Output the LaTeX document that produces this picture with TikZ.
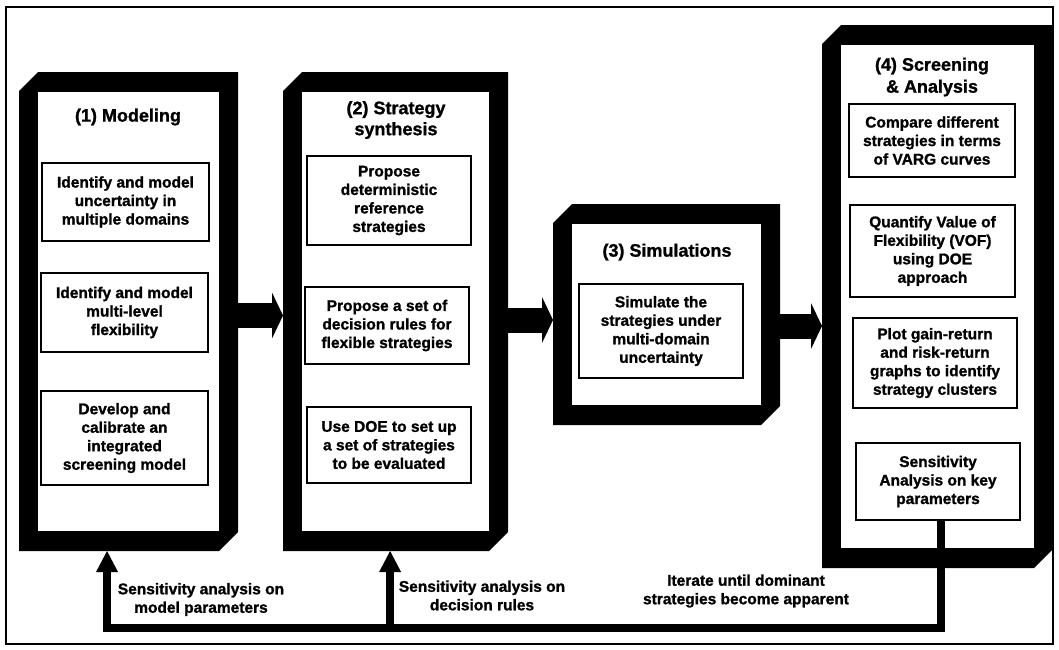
\documentclass[tikz,border=0pt]{standalone}
\usepackage{fontspec}
\setmainfont{Liberation Sans}[BoldFeatures={FakeBold=1.2}]
\usetikzlibrary{arrows.meta,calc}

% thick black panel with two chamfered corners (north west, south east)
\newcommand\panelframe[1]{%
  \fill ($(#1.north west)+(19,0)$) -- (#1.north east)
        -- ($(#1.south east)+(0,-19)$) -- ($(#1.south east)+(-19,0)$)
        -- (#1.south west) -- ($(#1.north west)+(0,19)$) -- cycle;
  \fill[white] ($(#1.north west)+(19,20)$) rectangle ($(#1.south east)+(-19,-20)$);}

\begin{document}
\begin{tikzpicture}[x=1pt,y=-1pt,
  every node/.style={font=\fontsize{15.5}{18.5}\selectfont\bfseries},
  panel/.style={inner sep=0pt,outer sep=0pt},
  stepbox/.style={draw,line width=1.1pt,fill=white,align=center,inner sep=2pt},
  title/.style={align=center,font=\fontsize{18}{21}\selectfont\bfseries},
  label/.style={align=center},
  blockarrow/.style={line width=25pt,-{Triangle[length=11pt,width=46pt,line width=0pt]}},
  feedback/.style={line width=8pt,-{Triangle[length=21pt,width=22pt,line width=0pt]}}]

\useasboundingbox (0,0) rectangle (1059,649);
\draw[line width=2pt] (6,7) rectangle (1053,644);

% the four stage panels
\node[panel,minimum width=219pt,minimum height=479pt] (m1) at (128.5,311.5) {};
\node[panel,minimum width=225pt,minimum height=479pt] (m2) at (395.5,311.5) {};
\node[panel,minimum width=227pt,minimum height=221pt] (m3) at (666.5,314.5) {};
\node[panel,minimum width=231pt,minimum height=543pt] (m4) at (937.5,296.5) {};
\panelframe{m1}
\panelframe{m2}
\panelframe{m3}
\panelframe{m4}

% titles
\node[title] (t1) at (128,117) {(1) Modeling};
\node[title] (t2) at (396,120) {(2) Strategy\\synthesis};
\node[title] (t3) at (667,252) {(3) Simulations};
\node[title,font=\fontsize{18}{22}\selectfont\bfseries] (t4) at (932,77) {(4) Screening\\\& Analysis};

% stage 1
\node[stepbox,minimum width=167pt,minimum height=78pt] (q11) at (125.5,202) {Identify and model\\uncertainty in\\multiple domains};
\node[stepbox,minimum width=167pt,minimum height=79pt] (q12) at (124.5,312.5) {Identify and model\\multi-level\\flexibility};
\node[stepbox,minimum width=167pt,minimum height=94pt] (q13) at (124.5,438) {Develop and\\calibrate an\\integrated\\screening model};

% stage 2
\node[stepbox,minimum width=164pt,minimum height=89pt] (q21) at (389,200.5) {Propose\\deterministic\\reference\\strategies};
\node[stepbox,minimum width=164pt,minimum height=77pt] (q22) at (387,325.5) {Propose a set of\\decision rules for\\flexible strategies};
\node[stepbox,minimum width=164pt,minimum height=76pt] (q23) at (389,445) {Use DOE to set up\\a set of strategies\\to be evaluated};

% stage 3
\node[stepbox,minimum width=164pt,minimum height=94pt] (q31) at (661,331) {Simulate the\\strategies under\\multi-domain\\uncertainty};

% stage 4
\node[stepbox,minimum width=166pt,minimum height=73pt] (q41) at (932,140.5) {Compare different\\strategies in terms\\of VARG curves};
\node[stepbox,minimum width=165pt,minimum height=92pt] (q42) at (932.5,251) {Quantify Value of\\Flexibility (VOF)\\using DOE\\approach};
\node[stepbox,minimum width=164pt,minimum height=90pt] (q43) at (935,363) {Plot gain-return\\and risk-return\\graphs to identify\\strategy clusters};
\node[stepbox,minimum width=164pt,minimum height=77pt] (q44) at (938,481.5) {Sensitivity\\Analysis on key\\parameters};

% forward flow between stages
\draw[blockarrow] ($(m1.east)+(0,4)$) -- ($(m2.west)+(0,4)$);
\draw[blockarrow] ($(m2.east)+(0,8.5)$) -- ($(m3.west)+(0,5.5)$);
\draw[blockarrow] ($(m3.east)+(0,11.5)$) -- ($(m4.west)+(0,29.5)$);

% iteration loop back to stages 1 and 2
\coordinate (bend) at ($(q44.south)+(3,107)$);
\coordinate (in1) at ($(m1.south west)!0.402!(m1.south east)$);
\coordinate (in2) at ($(m2.south west)!0.476!(m2.south east)$);
\draw[feedback] (q44.south -| bend) -- (bend) -| (in1);
\draw[feedback] (in2 |- bend) -- (in2);

% loop labels
\node[label] (l1) at (201,599.5) {Sensitivity analysis on\\model parameters};
\node[label] (l2) at (482,595.5) {Sensitivity analysis on\\decision rules};
\node[label] (l3) at (746,591) {Iterate until dominant\\strategies become apparent};

\end{tikzpicture}
\end{document}
